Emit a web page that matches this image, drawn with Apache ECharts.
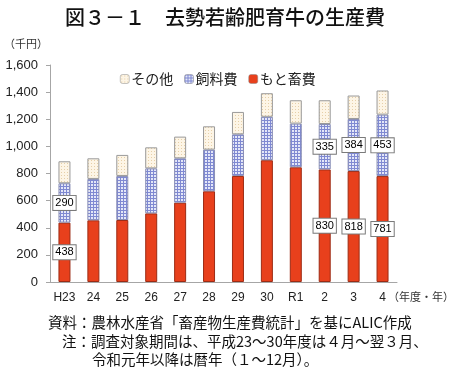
<!DOCTYPE html>
<html><head><meta charset="utf-8">
<script src="https://cdn.jsdelivr.net/npm/echarts@6/dist/echarts.min.js"></script>
<style>html,body{margin:0;padding:0;background:#fff}#c{width:450px;height:381px}</style>
</head><body><div id="c"></div>
<script>
const categories = ['H23','24','25','26','27','28','29','30','R1','2','3','4'];
const motoValues = [438, 455, 457, 506, 585, 669, 782, 898, 846, 830, 818, 781];
const feedValues = [290, 305, 325, 332, 327, 307, 307, 320, 322, 335, 384, 453];
const otherValues = [162, 152, 155, 155, 160, 172, 165, 174, 172, 175, 173, 178];
const labelIndices = [0, 9, 10, 11];
const yTicks = [0, 200, 400, 600, 800, 1000, 1200, 1400, 1600];

function makePattern(bg, fg, kind) {
  const c = document.createElement('canvas');
  c.width = 3; c.height = 3;
  const g = c.getContext('2d');
  g.fillStyle = bg; g.fillRect(0, 0, 3, 3);
  g.fillStyle = fg;
  if (kind === 'grid') { g.fillRect(0, 0, 3, 1); g.fillRect(0, 0, 1, 3); }
  else { g.fillRect(1, 1, 1, 1); }
  return c;
}
const bluePat = { image: makePattern('#e4e7f8', '#7f89d2', 'grid'), repeat: 'repeat' };
const otherPat = { image: makePattern('#fdf5e6', '#e6cfa8', 'dot'), repeat: 'repeat' };

const labelStyle = {
  show: true, position: 'inside', color: '#000', fontSize: 11,
  fontFamily: 'Liberation Sans, Arial, sans-serif',
  backgroundColor: '#fff', borderColor: '#7a7a7a', borderWidth: 1,
  padding: [2, 2, 1, 2],
  formatter: p => p.value
};
function withLabels(vals) {
  return vals.map((v, i) => labelIndices.includes(i) ? { value: v, label: labelStyle } : v);
}

const chart = echarts.init(document.getElementById('c'), null, { renderer: 'canvas' });
const jp = 'Noto Sans CJK JP';
chart.setOption({
  animation: false,
  textStyle: { fontFamily: jp },
  title: {
    text: '図３－１　去勢若齢肥育牛の生産費', left: 'center', top: 2,
    textStyle: { fontSize: 20, fontWeight: 500, color: '#111', fontFamily: jp }
  },
  legend: {
    data: ['その他', '飼料費', 'もと畜費'], top: 67, left: 115,
    itemWidth: 9, itemHeight: 9, itemGap: 11,
    textStyle: { fontSize: 14, color: '#222', fontFamily: jp, padding: [0, 0, 0, -3] },
    itemStyle: { borderColor: '#888', borderWidth: 0.5 }
  },
  grid: { left: 50, right: 53, top: 65, bottom: 99 },
  xAxis: {
    type: 'category', data: categories,
    axisLine: { lineStyle: { color: '#a6a6a6' } },
    axisTick: { show: false },
    axisLabel: { fontSize: 12, color: '#222', margin: 10, fontFamily: 'Liberation Sans, Arial, sans-serif' }
  },
  yAxis: {
    type: 'value', min: 0, max: 1600, interval: 200,
    axisLine: { show: true, lineStyle: { color: '#a6a6a6' } },
    axisTick: { show: true, length: 4, lineStyle: { color: '#a6a6a6' } },
    splitLine: { show: false },
    axisLabel: {
      fontSize: 13, color: '#222', margin: 12, fontFamily: 'Liberation Sans, Arial, sans-serif',
      formatter: v => yTicks.includes(v) ? v.toLocaleString('en-US') : ''
    }
  },
  series: [
    { name: 'もと畜費', type: 'bar', stack: 't', barWidth: 12, data: withLabels(motoValues),
      itemStyle: { color: '#e8401c', borderColor: '#9c2b14', borderWidth: 1 } },
    { name: '飼料費', type: 'bar', stack: 't', barWidth: 12, data: withLabels(feedValues),
      itemStyle: { color: bluePat, borderColor: '#8a8fb5', borderWidth: 1 } },
    { name: 'その他', type: 'bar', stack: 't', barWidth: 12, data: otherValues,
      itemStyle: { color: otherPat, borderColor: '#9a9a9a', borderWidth: 1 } }
  ],
  graphic: [
    { type: 'text', left: 4, top: 38, style: { text: '（千円）', fontSize: 11, fill: '#333', fontFamily: jp } },
    { type: 'text', left: 388, top: 291, style: { text: '（年度・年）', fontSize: 11, fill: '#333', fontFamily: jp } },
    { type: 'text', left: 48, top: 315, style: { text: '資料：農林水産省「畜産物生産費統計」を基にALIC作成', fontSize: 14.5, fill: '#111', fontFamily: jp } },
    { type: 'text', left: 62, top: 334, style: { text: '注：調査対象期間は、平成23～30年度は４月～翌３月、', fontSize: 14.5, fill: '#111', fontFamily: jp } },
    { type: 'text', left: 92, top: 352, style: { text: '令和元年以降は暦年（１～12月）。', fontSize: 14.5, fill: '#111', fontFamily: jp } }
  ]
});
</script></body></html>
